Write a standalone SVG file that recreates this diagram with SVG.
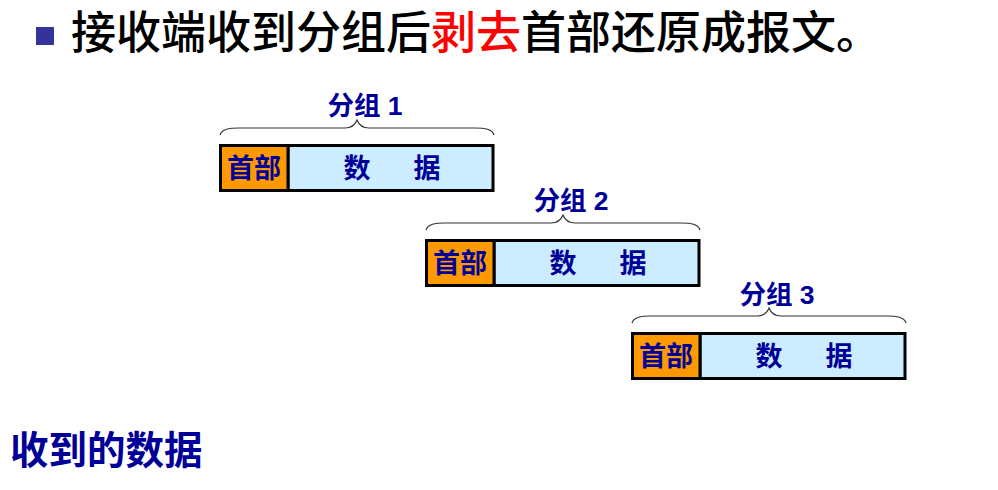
<svg xmlns="http://www.w3.org/2000/svg" width="998" height="490" viewBox="0 0 998 490">
<defs>
<style>
.title{font-family:"Liberation Sans","Noto Sans CJK SC",sans-serif;font-size:45px;fill:#000;font-weight:500}
.red{fill:#FF0000}
.lbl{font-family:"Liberation Sans","Noto Sans CJK SC",sans-serif;font-size:26.5px;font-weight:bold;fill:#000099;text-anchor:middle}
.cell{font-family:"Liberation Sans","Noto Sans CJK SC",sans-serif;font-size:27px;font-weight:bold;fill:#000099;text-anchor:middle}
.hdr{fill:#FF9900;stroke:#000;stroke-width:3}
.dat{fill:#CCECFF;stroke:#000;stroke-width:3}
.brace{fill:none;stroke:#333;stroke-width:1.2}
.bottom{font-family:"Liberation Sans","Noto Sans CJK SC",sans-serif;font-size:38.5px;font-weight:bold;fill:#000099}
</style>
<g id="packet">
<path class="brace" d="M1,-9 C3,-15 10,-16 20,-16 L126,-16 C133,-16 136,-19 138,-24 C140,-19 143,-16 150,-16 L256,-16 C266,-16 273,-15 275,-9"/>
<rect class="dat" x="69" y="1.5" width="205" height="45"/>
<rect class="hdr" x="1.5" y="1.5" width="67.5" height="45"/>
<text class="cell" x="35" y="34">首部</text>
<text class="cell" y="34"><tspan x="138">数</tspan><tspan x="208">据</tspan></text>
</g>
</defs>
<rect width="998" height="490" fill="#fff"/>
<rect x="36" y="27" width="18" height="18" fill="#333399"/>
<text class="title" x="71" y="49">接收端收到分组后<tspan class="red">剥去</tspan>首部还原成报文。</text>
<g id="packet1">
<text class="lbl" x="365" y="115">分组 1</text>
<use href="#packet" x="219" y="144"/>
</g>
<g id="packet2">
<text class="lbl" x="571" y="210">分组 2</text>
<use href="#packet" x="425" y="239"/>
</g>
<g id="packet3">
<text class="lbl" x="777" y="304">分组 3</text>
<use href="#packet" x="631" y="332"/>
</g>
<g id="connectors"></g>
<text class="bottom" x="10" y="464">收到的数据</text>
</svg>
